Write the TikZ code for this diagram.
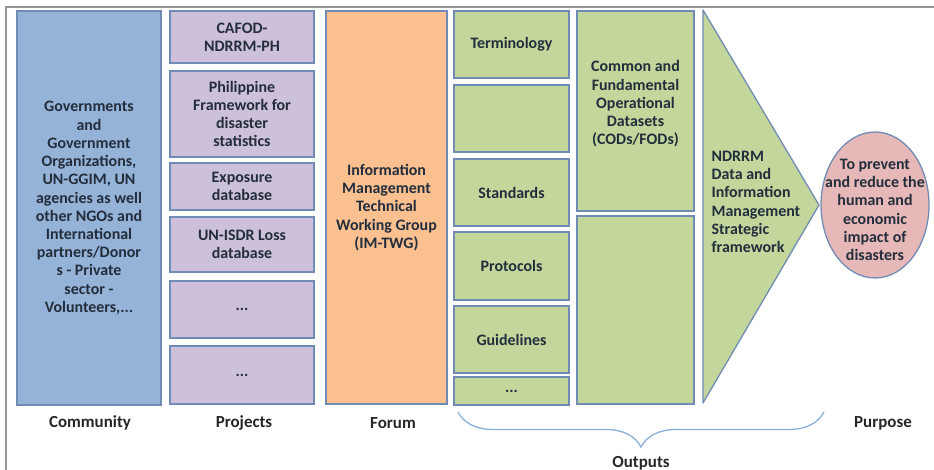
\documentclass[tikz,border=0pt]{standalone}
\usepackage{fontspec}
\setmainfont{Carlito}
\usetikzlibrary{shapes.geometric,decorations.pathreplacing}
\definecolor{bord}{RGB}{112,140,180}
\definecolor{txt}{RGB}{35,45,60}
\definecolor{cblue}{RGB}{149,179,215}
\definecolor{cpurp}{RGB}{204,192,218}
\definecolor{corange}{RGB}{250,192,144}
\definecolor{cgreen}{RGB}{195,214,155}
\definecolor{cpink}{RGB}{230,185,184}
\definecolor{bracec}{RGB}{140,175,215}
\definecolor{framec}{RGB}{150,150,150}
\tikzset{
  box/.style={draw=bord, line width=1.3pt, align=center, inner sep=1pt, text=txt,
    font=\fontsize{16}{18.3}\selectfont\bfseries},
  lab/.style={text=black!85, font=\fontsize{17}{18}\selectfont\bfseries}
}
\begin{document}
\begin{tikzpicture}[x=1bp,y=-1bp]
\useasboundingbox (0,0) rectangle (934,470);
\draw[framec, line width=2pt] (6,470) -- (6,7) -- (934,7);
% Community
\node[box, fill=cblue, minimum width=144bp, minimum height=394bp] (comm) at (89,208)
 {Governments\\and\\Government\\Organizations,\\UN-GGIM, UN\\agencies as well\\other NGOs and\\International\\partners/Donor\\s - Private\\sector -\\Volunteers,...};
% Projects
\node[box, fill=cpurp, minimum width=144bp, minimum height=52bp] (p1) at (242,37) {CAFOD-\\NDRRM-PH};
\node[box, fill=cpurp, minimum width=144bp, minimum height=86bp] (p2) at (242,114) {Philippine\\Framework for\\disaster\\statistics};
\node[box, fill=cpurp, minimum width=144bp, minimum height=47bp] (p3) at (242,186.5) {Exposure\\database};
\node[box, fill=cpurp, minimum width=144bp, minimum height=55bp] (p4) at (242,244.5) {UN-ISDR Loss\\database};
\node[box, fill=cpurp, minimum width=144bp, minimum height=57bp] (p5) at (242,309.5) {...};
\node[box, fill=cpurp, minimum width=144bp, minimum height=58bp] (p6) at (242,375) {...};
% Forum
\node[box, fill=corange, minimum width=121bp, minimum height=393bp] (forum) at (386.5,207.5)
 {Information\\Management\\Technical\\Working Group\\(IM-TWG)};
% Outputs column 1
\node[box, fill=cgreen, minimum width=115bp, minimum height=67bp] (g1) at (511.5,44.5) {Terminology};
\node[box, fill=cgreen, minimum width=115bp, minimum height=67bp] (g2) at (511.5,118.5) {};
\node[box, fill=cgreen, minimum width=115bp, minimum height=67bp] (g3) at (511.5,192.5) {Standards};
\node[box, fill=cgreen, minimum width=115bp, minimum height=68bp] (g4) at (511.5,266) {Protocols};
\node[box, fill=cgreen, minimum width=115bp, minimum height=67bp] (g5) at (511.5,339.5) {Guidelines};
\node[box, fill=cgreen, minimum width=115bp, minimum height=28bp] (g6) at (511.5,391) {...};
% Outputs column 2
\node[box, fill=cgreen, minimum width=117bp, minimum height=200bp] (c1) at (635.5,111) {};
\node[box, align=center, draw=none] (ctext) at (635.5,104) {Common and\\Fundamental\\Operational\\Datasets\\(CODs/FODs)};
\node[box, fill=cgreen, minimum width=117bp, minimum height=188bp] (c2) at (635.5,310) {};
% Triangle
\coordinate (t1) at (703,10);
\coordinate (t2) at (819,205);
\coordinate (t3) at (703,403);
\draw[bord, line width=1.3pt, fill=cgreen, line join=round] (t1) -- (t2) -- (t3) -- cycle;
\node[box, draw=none, align=left, anchor=west] (tri) at (710,202)
 {NDRRM\\Data and\\Information\\Management\\Strategic\\framework};
% Purpose ellipse
\node[box, ellipse, fill=cpink, minimum width=108bp, minimum height=146bp, inner sep=0pt] (goal) at (875,205) {};
\node[box, draw=none] (goaltext) at (875,210) {To prevent\\and reduce the\\human and\\economic\\impact of\\disasters};
% Brace
\coordinate (bl) at (458,412);
\coordinate (br) at (824,412);
\draw[bracec, line width=1.3pt, decorate, decoration={brace, mirror, amplitude=35bp, aspect=0.5}] (bl) -- (br);
% Labels
\node[lab] (lcomm) at (90,423) {Community};
\node[lab] (lproj) at (244,423) {Projects};
\node[lab] (lforum) at (393,423) {Forum};
\node[lab] (lout) at (641,463) {Outputs};
\node[lab] (lpurp) at (883,423) {Purpose};
\end{tikzpicture}
\end{document}
